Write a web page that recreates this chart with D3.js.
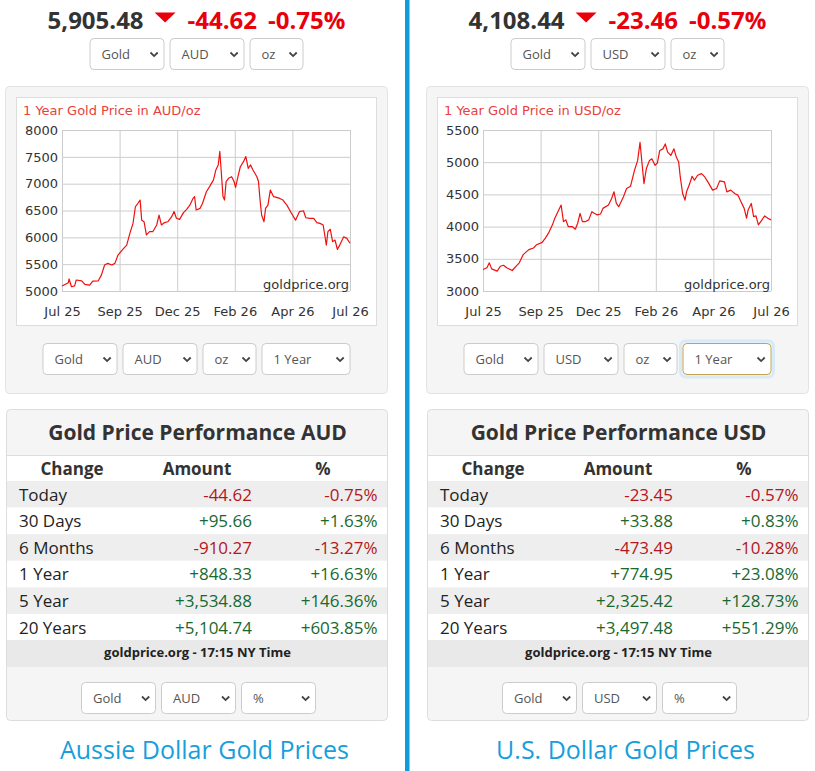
<!DOCTYPE html>
<html>
<head>
<meta charset="utf-8">
<script src="https://cdn.jsdelivr.net/npm/d3@7"></script>
<style>
  body { margin: 0; background: #fff; }
  svg { display: block; font-family: "Open Sans", sans-serif; }
</style>
</head>
<body>
<svg id="page" width="815" height="771"></svg>
<script>
// ---- data ----
const xTickLabels = ["Jul 25", "Sep 25", "Dec 25", "Feb 26", "Apr 26", "Jul 26"];

const audTicks = [5000, 5500, 6000, 6500, 7000, 7500, 8000];
const audDays = [0, 8, 9, 12, 16, 18, 25, 29, 35, 39, 46, 50, 54, 58, 63, 67, 71, 77, 82, 86, 90, 93, 96, 99, 101, 104, 107, 111, 115, 120, 123, 126, 130, 134, 139, 142, 145, 149, 154, 158, 162, 166, 168, 170, 175, 178, 183, 187, 192, 195, 198, 200, 202, 204, 206, 208, 211, 215, 218, 220, 223, 226, 230, 233, 236, 239, 242, 247, 249, 251, 253, 256, 258, 261, 264, 268, 272, 276, 280, 285, 291, 296, 301, 306, 309, 314, 319, 323, 327, 331, 335, 337, 340, 343, 346, 349, 352, 357, 361, 365];
const audPrices = [5093, 5155, 5224, 5080, 5095, 5205, 5190, 5125, 5110, 5185, 5190, 5300, 5485, 5515, 5485, 5515, 5670, 5775, 5855, 6075, 6260, 6570, 6630, 6695, 6320, 6290, 6045, 6105, 6105, 6230, 6415, 6230, 6275, 6290, 6385, 6480, 6355, 6335, 6460, 6520, 6600, 6725, 6760, 6510, 6540, 6630, 6850, 6945, 7070, 7255, 7350, 7600, 7190, 6760, 6695, 7040, 7100, 7130, 7040, 6930, 7130, 7315, 7410, 7505, 7285, 7350, 7255, 7130, 7040, 6695, 6415, 6290, 6540, 6600, 6880, 6760, 6745, 6725, 6695, 6600, 6445, 6320, 6480, 6495, 6365, 6355, 6355, 6275, 6260, 6230, 5855, 6105, 6150, 5920, 5950, 5775, 5855, 6010, 5980, 5890];

const usdTicks = [3000, 3500, 4000, 4500, 5000, 5500];
const usdDays = [0, 5, 8, 11, 18, 22, 26, 30, 37, 42, 46, 51, 58, 64, 68, 75, 79, 83, 88, 91, 96, 99, 102, 105, 108, 113, 117, 120, 123, 126, 130, 134, 138, 141, 145, 149, 152, 159, 163, 166, 169, 172, 178, 182, 187, 192, 196, 199, 202, 204, 207, 211, 214, 218, 221, 224, 228, 231, 234, 238, 242, 245, 248, 250, 253, 256, 258, 262, 265, 268, 272, 277, 281, 285, 291, 296, 300, 306, 309, 314, 319, 323, 327, 331, 334, 336, 340, 343, 346, 349, 352, 357, 361, 365];
const usdPrices = [3334, 3360, 3437, 3344, 3308, 3385, 3400, 3360, 3318, 3385, 3437, 3565, 3642, 3668, 3719, 3755, 3822, 3898, 4027, 4130, 4258, 4335, 4078, 4104, 4001, 4001, 3960, 4052, 4206, 4078, 4078, 4104, 4232, 4206, 4181, 4196, 4283, 4335, 4437, 4540, 4360, 4309, 4463, 4591, 4627, 4874, 5028, 5310, 4925, 4668, 4899, 5028, 5053, 4951, 4987, 5182, 5207, 5284, 5156, 5105, 5207, 5079, 5002, 4771, 4514, 4412, 4540, 4668, 4781, 4720, 4797, 4822, 4771, 4694, 4566, 4591, 4710, 4694, 4540, 4566, 4514, 4489, 4386, 4283, 4130, 4258, 4360, 4155, 4166, 4027, 4078, 4166, 4130, 4104];

const perfLabels = ["Today", "30 Days", "6 Months", "1 Year", "5 Year", "20 Years"];
const audAmounts = [-44.62, 95.66, -910.27, 848.33, 3534.88, 5104.74];
const audPercents = [-0.75, 1.63, -13.27, 16.63, 146.36, 603.85];
const usdAmounts = [-23.45, 33.88, -473.49, 774.95, 2325.42, 3497.48];
const usdPercents = [-0.57, 0.83, -10.28, 23.08, 128.73, 551.29];

const svg = d3.select("#page");
const fmt = d3.formatLocale({ decimal: ".", thousands: ",", grouping: [3], currency: ["$", ""], minus: "-" });
const fmtPrice = fmt.format(",.2f");
const fmtSigned = fmt.format("+,.2f");

svg.append("rect").attr("width", 815).attr("height", 771).attr("fill", "#fff");

// blue divider
svg.append("rect").attr("x", 405).attr("y", 0).attr("width", 4.5).attr("height", 771).attr("fill", "#0e9cdc");

function dropdown(g, x, y, w, label, focused) {
  const d = g.append("g").attr("transform", `translate(${x},${y})`);
  if (focused) {
    d.append("rect").attr("x", -2).attr("y", -2).attr("width", w + 4).attr("height", 36)
      .attr("rx", 5).attr("fill", "none").attr("stroke", "#d6eaf8").attr("stroke-width", 3);
  }
  d.append("rect").attr("x", 0.5).attr("y", 0.5).attr("width", w - 1).attr("height", 31)
    .attr("rx", 4).attr("fill", "#fff").attr("stroke", focused ? "#c6a24e" : "#ccc");
  d.append("text").attr("x", 12).attr("y", 21).attr("font-size", 13).attr("fill", "#555").text(label);
  d.append("path").attr("d", `M${w - 14},14.5 l3.6,3.6 l3.6,-3.6`)
    .attr("fill", "none").attr("stroke", "#444").attr("stroke-width", 1.8);
}

function dropRow(g, cx, y, items) {
  const gap = 5;
  const total = d3.sum(items, d => d.w) + gap * (items.length - 1);
  let x = cx - total / 2;
  items.forEach(d => { dropdown(g, x, y, d.w, d.label, d.focused); x += d.w + gap; });
}

function drawColumn(cfg) {
  const ox = cfg.ox;
  const cx = 196.5 + ox;
  const g = svg.append("g");

  // ---- header ----
  const hdr = g.append("g").attr("font-weight", 700).attr("font-size", 24);
  const t1 = hdr.append("text").attr("y", 28.5).attr("fill", "#333").text(fmtPrice(cfg.price));
  const t2 = hdr.append("text").attr("y", 28.5).attr("fill", "#e8000b").text(fmt.format(".2f")(cfg.change));
  const t3 = hdr.append("text").attr("y", 28.5).attr("fill", "#e8000b").text(fmt.format(".2f")(cfg.pct) + "%");
  const w1 = t1.node().getComputedTextLength(), w2 = t2.node().getComputedTextLength(), w3 = t3.node().getComputedTextLength();
  const total = w1 + 11 + 21 + 12 + w2 + 11 + w3;
  let x = cx - total / 2;
  t1.attr("x", x); x += w1 + 11;
  hdr.append("path").attr("d", `M${x},12.5 L${x + 21},12.5 L${x + 10.5},22.5 Z`).attr("fill", "#e8000b");
  x += 21 + 12;
  t2.attr("x", x); x += w2 + 11;
  t3.attr("x", x);

  dropRow(g, cx, 38, [{ w: 75, label: "Gold" }, { w: 75, label: cfg.cur }, { w: 54, label: "oz" }]);

  // ---- chart panel ----
  g.append("rect").attr("x", 5.5 + ox).attr("y", 86.5).attr("width", 382).attr("height", 307)
    .attr("rx", 4).attr("fill", "#f5f5f5").attr("stroke", "#e3e3e3");
  g.append("rect").attr("x", 16.5 + ox).attr("y", 97.5).attr("width", 360).attr("height", 228)
    .attr("fill", "#fff").attr("stroke", "#ddd");

  const plotL = 62 + ox, plotR = 350 + ox, plotT = 130, plotB = 291;
  const xs = d3.scaleLinear().domain([0, 365]).range([plotL, plotR]);
  const ys = d3.scaleLinear().domain(d3.extent(cfg.ticks)).range([plotB, plotT]);
  const tickDays = xTickLabels.map((d, i) => i * 365 / (xTickLabels.length - 1));

  const chart = g.append("g").attr("font-family", "'DejaVu Sans', Verdana, sans-serif");
  chart.append("text").attr("x", 23 + ox).attr("y", 115).attr("font-size", 13)
    .attr("fill", "#e8413c").text(`1 Year Gold Price in ${cfg.cur}/oz`);

  const gx = chart.append("g").attr("transform", `translate(0,${plotB})`)
    .call(d3.axisBottom(xs).tickValues(tickDays).tickFormat((d, i) => xTickLabels[i])
      .tickSize(-(plotB - plotT)).tickPadding(16));
  const gy = chart.append("g").attr("transform", `translate(${plotL},0)`)
    .call(d3.axisLeft(ys).tickValues(cfg.ticks).tickFormat(d3.format("d"))
      .tickSize(-(plotR - plotL)).tickPadding(4));
  [gx, gy].forEach(a => {
    a.select(".domain").remove();
    a.selectAll(".tick line").attr("stroke", "#ccc");
    a.selectAll(".tick text").attr("font-size", 13).attr("fill", "#333")
      .attr("font-family", "'DejaVu Sans', Verdana, sans-serif");
  });

  chart.append("text").attr("x", plotR - 1).attr("y", 289).attr("text-anchor", "end")
    .attr("font-size", 13).attr("fill", "#333").text("goldprice.org");

  const line = d3.line().x(d => xs(d[0])).y(d => ys(d[1]));
  chart.append("path").datum(d3.zip(cfg.days, cfg.prices)).attr("d", line)
    .attr("fill", "none").attr("stroke", "#f01010").attr("stroke-width", 1.2).attr("stroke-linejoin", "round");

  dropRow(g, cx, 343, [{ w: 75, label: "Gold" }, { w: 75, label: cfg.cur }, { w: 54, label: "oz" },
    { w: 89, label: "1 Year", focused: cfg.focused }]);

  // ---- performance panel ----
  g.append("rect").attr("x", 6.5 + ox).attr("y", 409.5).attr("width", 381).attr("height", 311)
    .attr("rx", 4).attr("fill", "#f5f5f5").attr("stroke", "#ddd");
  g.append("text").attr("x", cx + 1).attr("y", 440).attr("text-anchor", "middle")
    .attr("font-weight", 700).attr("font-size", 21).attr("fill", "#333")
    .text(`Gold Price Performance ${cfg.cur}`);

  const rowH = 26.6, top = 481;
  g.append("rect").attr("x", 7 + ox).attr("y", 455).attr("width", 380).attr("height", 185).attr("fill", "#fff");
  g.append("line").attr("x1", 7 + ox).attr("x2", 387 + ox).attr("y1", 455.5).attr("y2", 455.5).attr("stroke", "#ddd");
  const hdrRow = g.append("g").attr("font-weight", 700).attr("font-size", 17).attr("fill", "#333").attr("text-anchor", "middle");
  hdrRow.append("text").attr("x", 72 + ox).attr("y", 475).text("Change");
  hdrRow.append("text").attr("x", 197 + ox).attr("y", 475).text("Amount");
  hdrRow.append("text").attr("x", 323 + ox).attr("y", 475).text("%");

  const rows = g.selectAll(null).data(perfLabels).join("g")
    .attr("transform", (d, i) => `translate(0,${top + i * rowH})`);
  rows.append("rect").attr("x", 7 + ox).attr("width", 380).attr("height", rowH)
    .attr("fill", (d, i) => i % 2 === 0 ? "#eee" : "#fff");
  rows.append("text").attr("x", 19 + ox).attr("y", 19.7).attr("font-size", 17).attr("fill", "#222").text(d => d);
  const col = v => v < 0 ? "#b3161c" : "#18692f";
  rows.append("text").attr("x", 252 + ox).attr("y", 19.7).attr("text-anchor", "end").attr("font-size", 17)
    .attr("fill", (d, i) => col(cfg.amounts[i])).text((d, i) => fmtSigned(cfg.amounts[i]));
  rows.append("text").attr("x", 377.5 + ox).attr("y", 19.7).attr("text-anchor", "end").attr("font-size", 17)
    .attr("fill", (d, i) => col(cfg.percents[i])).text((d, i) => fmtSigned(cfg.percents[i]) + "%");

  g.append("rect").attr("x", 7 + ox).attr("y", 640).attr("width", 380).attr("height", 27).attr("fill", "#e9e9e9");
  g.append("text").attr("x", cx + 1).attr("y", 657).attr("text-anchor", "middle").attr("font-weight", 700)
    .attr("font-size", 13).attr("fill", "#222").text("goldprice.org - 17:15 NY Time");

  dropRow(g, cx + 2, 682, [{ w: 75, label: "Gold" }, { w: 75, label: cfg.cur }, { w: 75, label: "%" }]);

  g.append("text").attr("x", cx + 8).attr("y", 759).attr("text-anchor", "middle")
    .attr("font-size", 25).attr("fill", "#179fdc").text(cfg.title);
}

drawColumn({ ox: 0, cur: "AUD", price: 5905.48, change: -44.62, pct: -0.75, ticks: audTicks,
  days: audDays, prices: audPrices, amounts: audAmounts, percents: audPercents,
  title: "Aussie Dollar Gold Prices", focused: false });
drawColumn({ ox: 421, cur: "USD", price: 4108.44, change: -23.46, pct: -0.57, ticks: usdTicks,
  days: usdDays, prices: usdPrices, amounts: usdAmounts, percents: usdPercents,
  title: "U.S. Dollar Gold Prices", focused: true });
</script>
</body>
</html>
